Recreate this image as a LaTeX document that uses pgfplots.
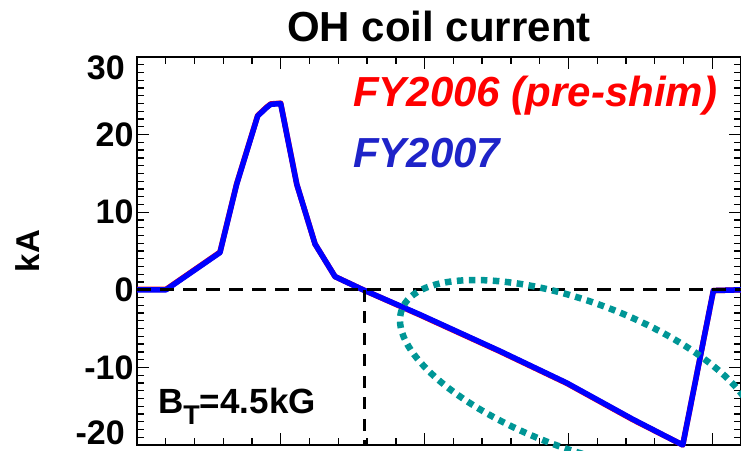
\documentclass[border=0pt]{standalone}
\usepackage{fontspec}
\setmainfont{Liberation Sans}
\usepackage{pgfplots}
\pgfplotsset{compat=1.18}
\definecolor{fyblue}{RGB}{30,35,200}
\definecolor{ellteal}{RGB}{0,150,150}
\begin{document}
\begin{tikzpicture}
\begin{axis}[name=ax, at={(0,0)}, anchor=south west,
  scale only axis, width=604pt, height=388pt,
  xmin=0, xmax=4.2, ymin=-20, ymax=30,
  xtick={0,1,2,3,4}, xticklabels={}, minor x tick num=4,
  ytick={-20,-10,0,10,20,30}, yticklabels={,-10,0,10,20,},
  minor y tick num=9,
  tick align=inside, major tick length=12pt, minor tick length=7pt,
  axis line style={line width=2pt},
  every tick/.style={black, line width=1.3pt},
  yticklabel style={font=\fontsize{34}{40}\selectfont\bfseries},
  clip=false]
\addplot[red, line width=5.5pt, line join=round] coordinates {
(0,0.05) (0.2017,0.05) (0.577,4.85) (0.693,13.65) (0.839,22.45) (0.902,23.55) (0.93,23.95) (0.999,24.05)
(1.111,13.6) (1.238,5.9) (1.377,1.7) (1.572,0) (1.968,-3.25) (2.524,-7.95)
(2.988,-12.05) (3.449,-16.75) (3.795,-20.0) (4.008,-0.1) (4.2,0)};
\addplot[blue, line width=5.5pt, line join=round] coordinates {
(0,0) (0.2017,0) (0.577,4.8) (0.693,13.6) (0.839,22.4) (0.902,23.5) (0.93,23.9) (0.999,24.0)
(1.111,13.6) (1.238,5.9) (1.377,1.7) (1.572,0) (1.968,-3.2) (2.524,-7.9)
(2.988,-12.0) (3.449,-16.7) (3.795,-20.0) (4.008,-0.1) (4.2,0)};
\addplot[black, line width=3pt, dash pattern=on 14pt off 9pt] coordinates {(0,0) (4.2,0)};
\addplot[black, line width=3pt, dash pattern=on 12pt off 9.5pt] coordinates {(1.581,0) (1.581,-20)};
\end{axis}
\begin{scope}[shift={(ax.south west)}]
\draw[ellteal, line width=6.5pt, dash pattern=on 6.5pt off 5.5pt, overlay] (441.6pt,69.8pt) ellipse [x radius=188.6pt, y radius=73.4pt, rotate=-20.4];
\end{scope}
\begin{scope}[shift={(ax.south west)}, xshift=-137pt, yshift=445pt, x=1pt, y=-1pt]
\node[anchor=base, font=\fontsize{42}{48}\selectfont\bfseries] at (439,42) {OH coil current};
\node[rotate=90, font=\fontsize{33}{40}\selectfont\bfseries] at (28,251) {kA};
\node[anchor=east, inner sep=0pt, font=\fontsize{34}{40}\selectfont\bfseries] at (125,67.5) {30};
\node[anchor=east, inner sep=0pt, font=\fontsize{34}{40}\selectfont\bfseries] at (125,433) {-20};
\node[anchor=base west, inner sep=0pt, text=red, font=\fontsize{42}{48}\selectfont\bfseries\itshape] at (353,107) {FY2006 (pre-shim)};
\node[anchor=base west, inner sep=0pt, text=fyblue, font=\fontsize{42}{48}\selectfont\bfseries\itshape] at (353,168) {FY2007};
\node[anchor=base west, inner sep=0pt, font=\fontsize{35}{40}\selectfont\bfseries] at (158,413) {B\raisebox{-0.32em}{\fontsize{27}{30}\selectfont T}=4.5kG};
\pgfresetboundingbox
\path[use as bounding box] (0,0) rectangle (741,450);
\end{scope}
\end{tikzpicture}
\end{document}
